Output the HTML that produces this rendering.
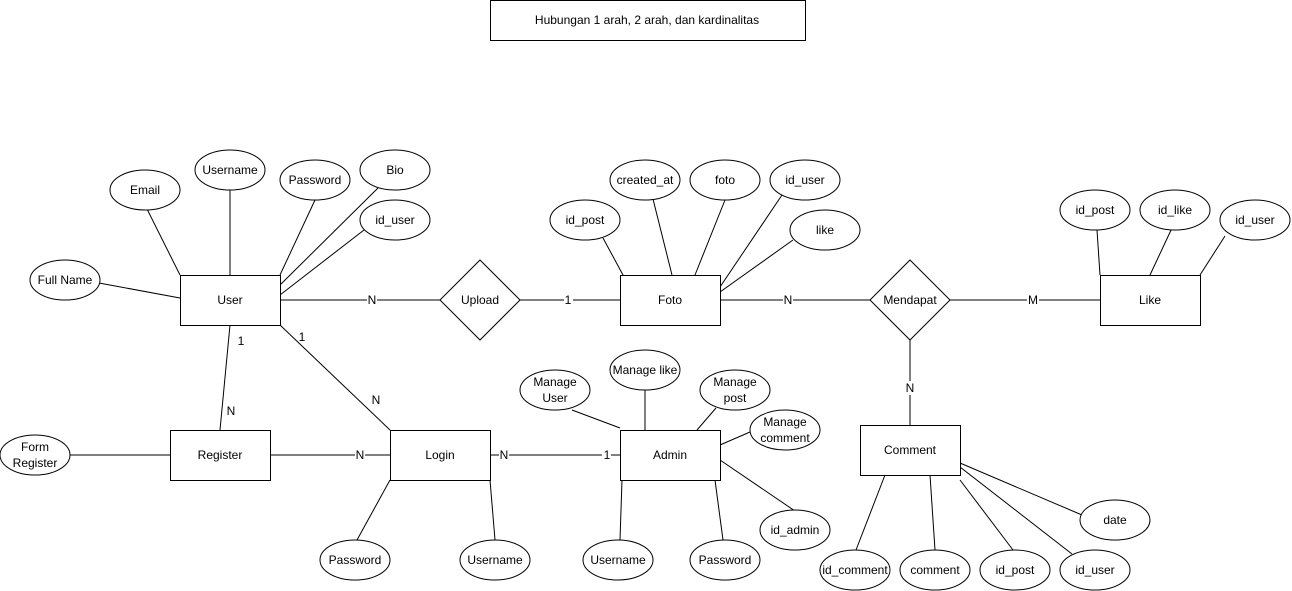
<!DOCTYPE html>
<html><head><meta charset="utf-8"><style>
html,body{margin:0;padding:0;background:#fff;}
svg{display:block;}
text{font-family:"Liberation Sans",Arial,sans-serif;font-size:12px;fill:#000;}
</style></head><body>
<svg width="1292" height="591" viewBox="0 0 1292 591" xmlns="http://www.w3.org/2000/svg">
<g stroke="#000" stroke-width="1" fill="none">
<!-- lines -->
<line x1="147" y1="209" x2="180" y2="275"/>
<line x1="230" y1="190" x2="230" y2="275"/>
<line x1="315" y1="200" x2="280" y2="275"/>
<line x1="378" y1="188" x2="280" y2="285"/>
<line x1="364" y1="230" x2="280" y2="295"/>
<line x1="99" y1="283" x2="180" y2="298"/>
<line x1="280" y1="300" x2="440" y2="300"/>
<line x1="520" y1="300" x2="620" y2="300"/>
<line x1="603" y1="238" x2="623" y2="275"/>
<line x1="653" y1="199" x2="672" y2="275"/>
<line x1="725" y1="200" x2="695" y2="275"/>
<line x1="782" y1="195" x2="720" y2="287"/>
<line x1="793" y1="240" x2="720" y2="292"/>
<line x1="720" y1="300" x2="870" y2="300"/>
<line x1="950" y1="300" x2="1100" y2="300"/>
<line x1="1097" y1="230" x2="1100" y2="275"/>
<line x1="1172" y1="228" x2="1150" y2="275"/>
<line x1="1225" y1="236" x2="1200" y2="275"/>
<line x1="910" y1="340" x2="910" y2="425"/>
<line x1="885" y1="475" x2="856" y2="550"/>
<line x1="930" y1="475" x2="935" y2="550"/>
<line x1="960" y1="480" x2="1013" y2="550"/>
<line x1="960" y1="467" x2="1072" y2="554"/>
<line x1="960" y1="463" x2="1082" y2="515"/>
<line x1="70" y1="455" x2="170" y2="455"/>
<line x1="230" y1="325" x2="220" y2="430"/>
<line x1="280" y1="325" x2="390" y2="430"/>
<line x1="270" y1="455" x2="390" y2="455"/>
<line x1="390" y1="480" x2="357" y2="540"/>
<line x1="490" y1="480" x2="495" y2="540"/>
<line x1="490" y1="455" x2="620" y2="455"/>
<line x1="572" y1="410" x2="620" y2="428"/>
<line x1="645" y1="390" x2="645" y2="430"/>
<line x1="716" y1="408" x2="697" y2="430"/>
<line x1="750" y1="432" x2="720" y2="445"/>
<line x1="795" y1="511" x2="720" y2="460"/>
<line x1="620" y1="540" x2="622" y2="480"/>
<line x1="723" y1="540" x2="715" y2="480"/>
</g>
<g stroke="#000" stroke-width="1" fill="#fff">
<rect x="490.5" y="0.5" width="315" height="40"/>
<rect x="180.5" y="275.5" width="100" height="50"/>
<rect x="620.5" y="275.5" width="100" height="50"/>
<rect x="1100.5" y="275.5" width="100" height="50"/>
<rect x="860.5" y="425.5" width="100" height="50"/>
<rect x="170.5" y="430.5" width="100" height="50"/>
<rect x="390.5" y="430.5" width="100" height="50"/>
<rect x="620.5" y="430.5" width="100" height="50"/>
<polygon points="480,260 520,300 480,340 440,300"/>
<polygon points="910,260 950,300 910,340 870,300"/>
<ellipse cx="145" cy="190" rx="35" ry="20"/>
<ellipse cx="230" cy="170" rx="35" ry="20"/>
<ellipse cx="315" cy="180" rx="35" ry="20"/>
<ellipse cx="395" cy="170" rx="35" ry="20"/>
<ellipse cx="395" cy="220" rx="35" ry="20"/>
<ellipse cx="65" cy="280" rx="35" ry="20"/>
<ellipse cx="585" cy="220" rx="35" ry="20"/>
<ellipse cx="645" cy="180" rx="35" ry="20"/>
<ellipse cx="725" cy="180" rx="35" ry="20"/>
<ellipse cx="805" cy="180" rx="35" ry="20"/>
<ellipse cx="825" cy="230" rx="35" ry="20"/>
<ellipse cx="1095" cy="210" rx="35" ry="20"/>
<ellipse cx="1175" cy="210" rx="35" ry="20"/>
<ellipse cx="1255" cy="220" rx="35" ry="20"/>
<ellipse cx="855" cy="570" rx="35" ry="20"/>
<ellipse cx="935" cy="570" rx="35" ry="20"/>
<ellipse cx="1015" cy="570" rx="35" ry="20"/>
<ellipse cx="1095" cy="570" rx="35" ry="20"/>
<ellipse cx="1115" cy="520" rx="35" ry="20"/>
<ellipse cx="35" cy="455" rx="35" ry="20"/>
<ellipse cx="355" cy="560" rx="35" ry="20"/>
<ellipse cx="495" cy="560" rx="35" ry="20"/>
<ellipse cx="555" cy="390" rx="35" ry="20"/>
<ellipse cx="645" cy="370" rx="35" ry="20"/>
<ellipse cx="735" cy="390" rx="35" ry="20"/>
<ellipse cx="785" cy="430" rx="35" ry="20"/>
<ellipse cx="795" cy="530" rx="35" ry="20"/>
<ellipse cx="618" cy="560" rx="35" ry="20"/>
<ellipse cx="725" cy="560" rx="35" ry="20"/>
</g>
<!-- edge labels backgrounds -->
<g fill="#fff">
<rect x="367" y="293" width="10" height="14"/>
<rect x="564" y="293" width="9" height="14"/>
<rect x="783" y="293" width="10" height="14"/>
<rect x="1027" y="293" width="12" height="14"/>
<rect x="905" y="381" width="10" height="14"/>
<rect x="355" y="448" width="10" height="14"/>
<rect x="499" y="448" width="10" height="14"/>
<rect x="602" y="448" width="9" height="14"/>
</g>
<g text-anchor="middle" dominant-baseline="central">
<text x="647" y="20">Hubungan 1 arah, 2 arah, dan kardinalitas</text>
<text x="230" y="300">User</text>
<text x="670" y="300">Foto</text>
<text x="1150" y="300">Like</text>
<text x="910" y="450">Comment</text>
<text x="220" y="455">Register</text>
<text x="440" y="455">Login</text>
<text x="670" y="455">Admin</text>
<text x="480" y="300">Upload</text>
<text x="910" y="300">Mendapat</text>
<text x="145" y="190">Email</text>
<text x="230" y="170">Username</text>
<text x="315" y="180">Password</text>
<text x="395" y="170">Bio</text>
<text x="395" y="220">id_user</text>
<text x="65" y="280">Full Name</text>
<text x="585" y="220">id_post</text>
<text x="645" y="180">created_at</text>
<text x="725" y="180">foto</text>
<text x="805" y="180">id_user</text>
<text x="825" y="230">like</text>
<text x="1095" y="210">id_post</text>
<text x="1175" y="210">id_like</text>
<text x="1255" y="220">id_user</text>
<text x="855" y="570">id_comment</text>
<text x="935" y="570">comment</text>
<text x="1015" y="570">id_post</text>
<text x="1095" y="570">id_user</text>
<text x="1115" y="520">date</text>
<text x="35" y="447">Form</text>
<text x="35" y="463">Register</text>
<text x="355" y="560">Password</text>
<text x="495" y="560">Username</text>
<text x="555" y="382">Manage</text>
<text x="555" y="398">User</text>
<text x="645" y="370">Manage like</text>
<text x="735" y="382">Manage</text>
<text x="735" y="398">post</text>
<text x="785" y="422">Manage</text>
<text x="785" y="438">comment</text>
<text x="795" y="530">id_admin</text>
<text x="618" y="560">Username</text>
<text x="725" y="560">Password</text>
<text x="372" y="300" font-size="11">N</text>
<text x="568" y="300" font-size="11">1</text>
<text x="788" y="300" font-size="11">N</text>
<text x="1033" y="300" font-size="11">M</text>
<text x="910" y="388" font-size="11">N</text>
<text x="241" y="341" font-size="11">1</text>
<text x="231" y="411" font-size="11">N</text>
<text x="302" y="337" font-size="11">1</text>
<text x="376" y="400" font-size="11">N</text>
<text x="360" y="455" font-size="11">N</text>
<text x="504" y="455" font-size="11">N</text>
<text x="607" y="455" font-size="11">1</text>
</g>
</svg>
</body></html>
